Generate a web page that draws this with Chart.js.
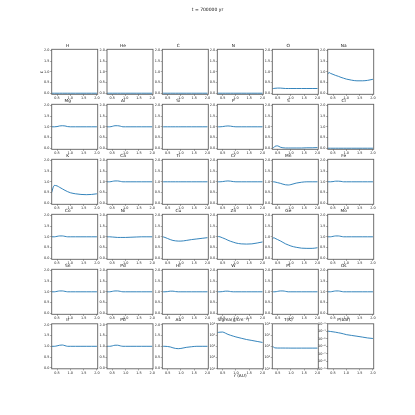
<!DOCTYPE html>
<html>
<head>
<meta charset="utf-8">
<script src="https://cdn.jsdelivr.net/npm/chart.js@4.4.1/dist/chart.umd.min.js"></script>
<style>
  body { margin: 0; background: #fff; }
  #fig { position: relative; width: 415px; height: 415px; overflow: hidden; }
  canvas { position: absolute; }
</style>
</head>
<body>
<div id="fig"><canvas id="bg" width="415" height="415" style="left:0;top:0"></canvas></div>
<script>
// radius grid (AU)
const r = [0.3, 0.35, 0.4, 0.5, 0.6, 0.7, 0.8, 0.9, 1.0, 1.2, 1.4, 1.6, 1.8, 2.0];

// relative abundances
const H  = [0, 0, 0, 0, 0, 0, 0, 0, 0, 0, 0, 0, 0, 0];
const He = [0, 0, 0, 0, 0, 0, 0, 0, 0, 0, 0, 0, 0, 0];
const C  = [0, 0, 0, 0, 0, 0, 0, 0, 0, 0, 0, 0, 0, 0];
const N  = [0, 0, 0, 0, 0, 0, 0, 0, 0, 0, 0, 0, 0, 0];
const O  = [0.22, 0.22, 0.23, 0.24, 0.24, 0.23, 0.22, 0.22, 0.22, 0.22, 0.22, 0.22, 0.22, 0.22];
const Na = [0.88, 0.97, 0.93, 0.88, 0.83, 0.79, 0.74, 0.70, 0.66, 0.61, 0.58, 0.58, 0.60, 0.65];
const Mg = [1.0, 1.0, 1.0, 1.01, 1.04, 1.05, 1.04, 1.01, 1.0, 1.0, 1.0, 1.0, 1.0, 1.0];
const Al = [1.0, 1.0, 1.0, 1.02, 1.05, 1.05, 1.03, 1.0, 1.0, 1.0, 1.0, 1.0, 1.0, 1.0];
const Si = [1.0, 1.0, 1.0, 1.0, 1.0, 1.0, 1.0, 1.0, 1.0, 1.0, 1.0, 1.0, 1.0, 1.0];
const P  = [1.0, 1.0, 1.0, 1.01, 1.03, 1.04, 1.03, 1.01, 1.0, 1.0, 1.0, 1.0, 1.0, 1.0];
const S  = [0.0, 0.03, 0.09, 0.11, 0.05, 0.02, 0.01, 0.01, 0.01, 0.01, 0.01, 0.02, 0.02, 0.03];
const Cl = [0, 0, 0, 0, 0, 0, 0, 0, 0, 0, 0, 0, 0, 0];
const K  = [0.5, 0.72, 0.83, 0.81, 0.74, 0.67, 0.60, 0.54, 0.49, 0.44, 0.41, 0.40, 0.41, 0.44];
const Ca = [1.0, 1.0, 1.0, 1.02, 1.04, 1.04, 1.02, 1.0, 1.0, 1.0, 1.0, 1.0, 1.0, 1.0];
const Ti = [1.0, 1.0, 1.0, 1.0, 1.0, 1.0, 1.0, 1.0, 1.0, 1.0, 1.0, 1.0, 1.0, 1.0];
const Cr = [1.0, 1.0, 1.0, 1.01, 1.03, 1.04, 1.03, 1.01, 1.0, 1.0, 1.0, 1.0, 1.0, 1.0];
const Mn = [1.0, 1.0, 0.99, 0.96, 0.93, 0.89, 0.86, 0.85, 0.87, 0.94, 0.98, 1.0, 1.0, 1.0];
const Fe = [1.0, 1.0, 1.0, 1.01, 1.03, 1.03, 1.02, 1.0, 1.0, 1.0, 1.0, 1.0, 1.0, 1.0];
const Co = [1.0, 1.0, 1.0, 1.02, 1.04, 1.04, 1.02, 1.0, 1.0, 1.0, 1.0, 1.0, 1.0, 1.0];
const Ni = [1.0, 1.0, 1.0, 0.99, 0.98, 0.97, 0.97, 0.97, 0.97, 0.98, 0.99, 1.0, 1.0, 1.0];
const Cu = [1.0, 0.99, 0.97, 0.92, 0.87, 0.83, 0.81, 0.80, 0.80, 0.83, 0.87, 0.90, 0.93, 0.96];
const Zn = [1.02, 1.01, 1.0, 0.95, 0.90, 0.84, 0.79, 0.75, 0.71, 0.67, 0.66, 0.67, 0.71, 0.76];
const Ge = [0.88, 0.96, 0.93, 0.87, 0.81, 0.74, 0.67, 0.62, 0.57, 0.51, 0.47, 0.46, 0.46, 0.49];
const Mo = [1.0, 1.0, 1.0, 1.02, 1.04, 1.04, 1.02, 1.0, 1.0, 1.0, 1.0, 1.0, 1.0, 1.0];
const Sn = [1.0, 1.0, 1.0, 1.02, 1.04, 1.04, 1.02, 1.0, 1.0, 1.0, 1.0, 1.0, 1.0, 1.0];
const Pd = [1.0, 1.0, 1.0, 1.02, 1.04, 1.04, 1.02, 1.0, 1.0, 1.0, 1.0, 1.0, 1.0, 1.0];
const Hf = [1.0, 1.0, 1.0, 1.01, 1.03, 1.03, 1.01, 1.0, 1.0, 1.0, 1.0, 1.0, 1.0, 1.0];
const W  = [1.0, 1.0, 1.0, 1.01, 1.03, 1.03, 1.01, 1.0, 1.0, 1.0, 1.0, 1.0, 1.0, 1.0];
const Pt = [1.0, 1.0, 1.0, 1.02, 1.04, 1.04, 1.02, 1.0, 1.0, 1.0, 1.0, 1.0, 1.0, 1.0];
const Os = [1.0, 1.0, 1.0, 1.02, 1.04, 1.04, 1.02, 1.0, 1.0, 1.0, 1.0, 1.0, 1.0, 1.0];
const Ir = [1.0, 1.0, 1.0, 1.02, 1.05, 1.06, 1.03, 1.0, 1.0, 1.0, 1.0, 1.0, 1.0, 1.0];
const Pb = [1.0, 1.0, 1.0, 1.02, 1.05, 1.05, 1.02, 1.0, 1.0, 1.0, 1.0, 1.0, 1.0, 1.0];
const Au = [1.0, 1.0, 1.0, 0.99, 0.97, 0.93, 0.90, 0.89, 0.90, 0.95, 0.98, 1.0, 1.0, 1.0];

// disk structure (log panels)
const sigmaGas = [16000, 17500, 18000, 18500, 15000, 11500, 9500, 8000, 6800, 5200, 4000, 3300, 2700, 2200];
const tempK    = [1000, 850, 720, 700, 700, 700, 695, 695, 690, 690, 690, 690, 690, 690];
const presBar  = [1.1e-4, 1.0e-4, 9.5e-5, 8.5e-5, 7.5e-5, 6.4e-5, 5.5e-5, 4.5e-5, 3.6e-5, 2.8e-5, 2.2e-5, 1.7e-5, 1.3e-5, 1.1e-5];

// ticks
const xTicks = [0.5, 1.0, 1.5, 2.0];
const xTickLabels = ['0.5', '1.0', '1.5', '2.0'];
const yTicks = [0, 0.5, 1.0, 1.5, 2.0];
const yTickLabels = ['0.0', '0.5', '1.0', '1.5', '2.0'];
const decTicks = [1e1, 1e2, 1e3, 1e4, 1e5];
const decTickLabels = ['10¹', '10²', '10³', '10⁴', '10⁵'];
const presTicks = [1e-9, 1e-8, 1e-7, 1e-6, 1e-5, 1e-4, 1e-3];
const presTickLabels = ['10⁻⁹', '10⁻⁸', '10⁻⁷', '10⁻⁶', '10⁻⁵', '10⁻⁴', '10⁻³'];

const panels = [
  ['H', H], ['He', He], ['C', C], ['N', N], ['O', O], ['Na', Na],
  ['Mg', Mg], ['Al', Al], ['Si', Si], ['P', P], ['S', S], ['Cl', Cl],
  ['K', K], ['Ca', Ca], ['Ti', Ti], ['Cr', Cr], ['Mn', Mn], ['Fe', Fe],
  ['Co', Co], ['Ni', Ni], ['Cu', Cu], ['Zn', Zn], ['Ge', Ge], ['Mo', Mo],
  ['Sn', Sn], ['Pd', Pd], ['Hf', Hf], ['W', W], ['Pt', Pt], ['Os', Os],
  ['Ir', Ir], ['Pb', Pb], ['Au', Au],
  ['Sigma(g/cm⁻²)', sigmaGas, 'log', decTicks, decTickLabels, 10, 1e5],
  ['T(K)', tempK, 'log', decTicks, decTickLabels, 10, 1e5],
  ['P(bar)', presBar, 'log', presTicks, presTickLabels, 1e-9, 1e-3]
];

const FONT = 'DejaVu Sans';
const colX = [51.7, 107.0, 162.3, 217.3, 272.3, 327.7];
const rowY = [49.3, 104.3, 159.3, 214.3, 269.3, 323.8];
const PW = 46, PH = 45.6;
const L = 14, R = 6, T = 9, B = 8;

const boxPlugin = {
  id: 'box',
  afterDraw(c) {
    const a = c.chartArea, g = c.ctx;
    g.save();
    g.strokeStyle = '#606060';
    g.lineWidth = 0.9;
    g.strokeRect(a.left, a.top, a.right - a.left, a.bottom - a.top);
    g.restore();
  }
};

const fig = document.getElementById('fig');

panels.forEach(function(p, i) {
  const name = p[0];
  const vals = p[1];
  const isLog = p[2] === 'log';
  const col = i % 6, row = Math.floor(i / 6);
  const cx = Math.floor(colX[col]) - L, cy = Math.floor(rowY[row]) - T;
  const fx = colX[col] - Math.floor(colX[col]);
  const fy = rowY[row] - Math.floor(rowY[row]);
  const cw = L + PW + R + 2, ch = T + PH + B + 2;

  const cv = document.createElement('canvas');
  cv.width = cw; cv.height = ch;
  cv.style.left = cx + 'px'; cv.style.top = cy + 'px';
  fig.appendChild(cv);

  const tickFont = { family: FONT, size: 3.4 };
  const ticks = isLog ? p[3] : yTicks;
  const tickLabels = isLog ? p[4] : yTickLabels;

  new Chart(cv, {
    type: 'line',
    data: {
      datasets: [{
        data: r.map((x, k) => ({ x: x, y: vals[k] })),
        borderColor: '#1f77b4',
        borderWidth: 0.9,
        pointRadius: 0,
        cubicInterpolationMode: 'monotone',
        fill: false
      }]
    },
    options: {
      responsive: false,
      animation: false,
      devicePixelRatio: 1,
      layout: { padding: { left: fx, top: fy, right: cw - (fx + L + PW), bottom: ch - (fy + T + PH + B) } },
      plugins: {
        legend: { display: false },
        tooltip: { enabled: false },
        title: {
          display: true, text: name, color: '#111',
          font: { family: FONT, size: 4.3, lineHeight: 1, weight: 'normal' },
          padding: { top: T - 4.3 - 1.3, bottom: 1.3 }
        }
      },
      scales: {
        x: {
          type: 'linear', min: 0.3, max: 2.03,
          afterBuildTicks: s => { s.ticks = xTicks.map(v => ({ value: v })); },
          afterFit: s => { s.height = B; },
          ticks: { callback: (v, k) => xTickLabels[k], font: tickFont, color: '#222', padding: 0.6, maxRotation: 0, autoSkip: false },
          grid: { drawOnChartArea: false, tickLength: 1.6, color: '#555', lineWidth: 0.5 },
          border: { display: false }
        },
        y: {
          type: isLog ? 'logarithmic' : 'linear',
          min: isLog ? p[5] : -0.05,
          max: isLog ? p[6] : 2.05,
          afterBuildTicks: s => { s.ticks = ticks.map(v => ({ value: v })); },
          afterFit: s => { s.width = L; },
          ticks: { callback: (v, k) => tickLabels[k], font: tickFont, color: '#222', padding: 0.6, autoSkip: false },
          grid: { drawOnChartArea: false, tickLength: 1.6, color: '#555', lineWidth: 0.5 },
          border: { display: false }
        }
      }
    },
    plugins: [boxPlugin]
  });
});

// figure-level text
const g = document.getElementById('bg').getContext('2d');
g.fillStyle = '#111';
g.textAlign = 'center';
g.textBaseline = 'middle';
g.font = '4.5px "DejaVu Sans"';
g.fillText('t = 700000 yr', 207.5, 9.7);
g.font = '4.3px "DejaVu Sans"';
g.fillText('r (AU)', 240.3, 376.3);
g.save();
g.translate(42.3, 72);
g.rotate(-Math.PI / 2);
g.fillText('ε', 0, 0);
g.restore();
</script>
</body>
</html>
